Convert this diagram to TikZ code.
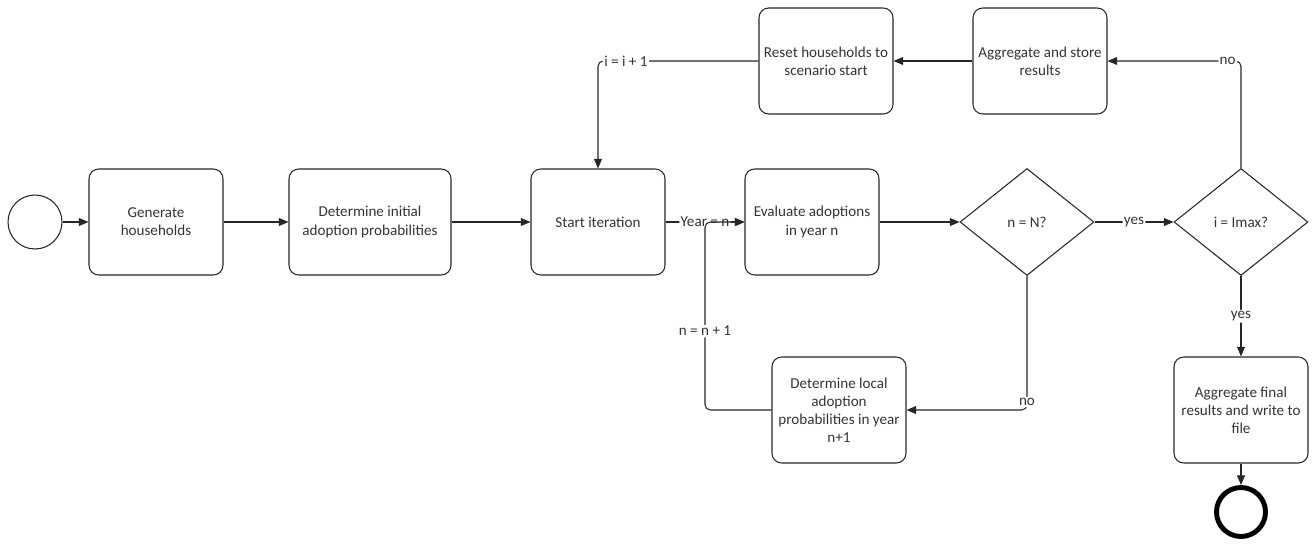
\documentclass[tikz,border=0pt]{standalone}
\usepackage{fontspec}
\setmainfont{Carlito}
\usetikzlibrary{arrows.meta}
\usetikzlibrary{positioning}
\usetikzlibrary{shapes.geometric}
\tikzset{
  task/.style={rectangle, rounded corners=5.5pt, draw=black!85, line width=0.6pt, minimum width=2.68cm, minimum height=2.12cm, align=center, inner sep=1pt},
  gate/.style={diamond, draw=black!85, line width=0.6pt, minimum width=2.68cm, minimum height=2.14cm, inner sep=0pt},
  event/.style={circle, draw=black!85, line width=0.6pt, minimum size=1.08cm, inner sep=0pt},
  endevent/.style={circle, draw=black, line width=2.8pt, minimum size=0.98cm, inner sep=0pt},
  flow/.style={-{Triangle[length=5.5pt,width=4.5pt]}, line width=0.6pt, draw=black!85, rounded corners=3pt},
  lbl/.style={fill=white, inner sep=0.8pt},
}

\begin{document}
\begin{tikzpicture}[x=0.02cm, y=-0.02cm, font=\fontsize{8.6}{10.3}\selectfont, text=black!80]
    \useasboundingbox (0,0) rectangle (1312,545);

    % main row
    \node[event] (start) at (35,222) {};
    \node[task] (gen) at (156,222) {Generate\\households};
    \node[task, minimum width=3.24cm] (init) at (370,222) {Determine initial\\adoption probabilities};
    \node[task] (iter) at (598,222) {Start iteration};
    \node[task] (eval) at (812,222) {Evaluate adoptions\\in year n};
    \node[gate] (yearchk) at (1027,222) {n = N?};
    \node[gate] (iterchk) at (1241,222) {i = Imax?};

    % upper row
    \node[task] (store) at (1040,61) {Aggregate and store\\results};
    \node[task] (reset) at (826,61) {Reset households to\\scenario start};

    % lower row
    \node[task] (local) at (839,410) {Determine local\\adoption\\probabilities in year\\n+1};
    \node[task] (final) at (1241,410) {Aggregate final\\results and write to\\file};
    \node[endevent] (stop) at (1241,512) {};

    \coordinate (back) at (705,222);

    \draw[flow] (start) -- (gen);
    \draw[flow] (gen) -- (init);
    \draw[flow] (init) -- (iter);
    \draw[flow] (iter) -- node[lbl, midway] {Year = n} (eval);
    \draw[flow] (local.west) -| node[lbl, pos=0.71] {n = n + 1} (back) -- (eval.west);
    \draw[flow] (eval) -- (yearchk);
    \draw[flow] (yearchk) -- node[lbl, midway] {yes} (iterchk);
    \draw[flow] (yearchk.south) |- node[lbl, pos=0.47] {no} (local.east);
    \draw[flow] (iterchk.north) |- node[lbl, pos=0.55] {no} (store.east);
    \draw[flow] (store) -- (reset);
    \draw[flow] (reset.west) -| node[lbl, pos=0.413] {i = i + 1} (iter.north);
    \draw[flow] (iterchk.south) -- node[lbl, midway] {yes} (final.north);
    \draw[flow] (final) -- (stop);

  \end{tikzpicture}
\end{document}
